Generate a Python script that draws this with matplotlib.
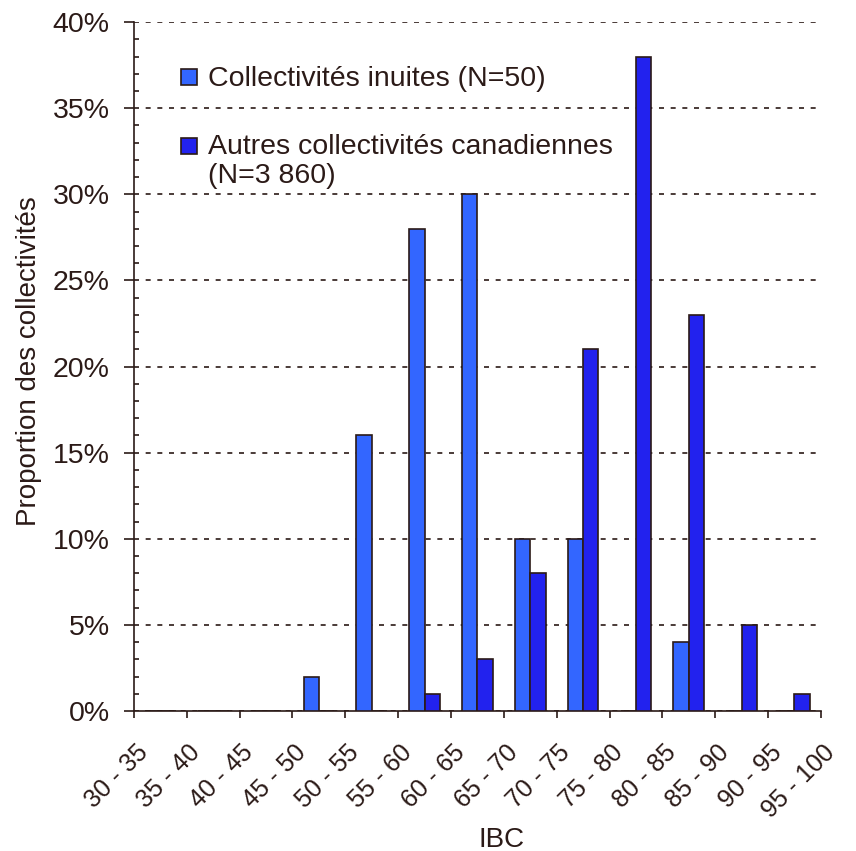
import matplotlib.pyplot as plt
from matplotlib.patches import Rectangle
from matplotlib.ticker import MultipleLocator, FuncFormatter
from matplotlib.transforms import ScaledTranslation
import numpy as np

TEXT_COLOR = '#2b1a17'
COLOR_INUIT = '#3366ff'
COLOR_OTHER = '#2222ee'
FONT_SIZE = 20.5
XTICK_SIZE = 18

plt.rcParams.update({'font.family': ['Liberation Sans', 'DejaVu Sans'], 'font.size': FONT_SIZE,
                     'text.color': TEXT_COLOR, 'axes.labelcolor': TEXT_COLOR,
                     'xtick.color': TEXT_COLOR, 'ytick.color': TEXT_COLOR})

tick_labels = ['30 - 35', '35 - 40', '40 - 45', '45 - 50', '50 - 55', '55 - 60', '60 - 65',
               '65 - 70', '70 - 75', '75 - 80', '80 - 85', '85 - 90', '90 - 95', '95 - 100']
inuit = [0, 0, 0, 2, 16, 28, 30, 10, 10, 0, 4, 0, 0]
other = [0, 0, 0, 0, 0, 1, 3, 8, 21, 38, 23, 5, 1]
label_inuit = 'Collectivités inuites (N=50)'
label_other = 'Autres collectivités canadiennes\n(N=3 860)'

fig = plt.figure(figsize=(8.56, 8.51), dpi=100)
ax = fig.add_axes([0.1565, 0.1645, 0.8025, 0.8095])

centers = np.arange(len(inuit)) + 0.5
width = 0.29
ax.bar(centers - width / 2, inuit, width, color=COLOR_INUIT, edgecolor=TEXT_COLOR, linewidth=1.2, zorder=3)
ax.bar(centers + width / 2, other, width, color=COLOR_OTHER, edgecolor=TEXT_COLOR, linewidth=1.2, zorder=3)

ax.yaxis.set_major_locator(MultipleLocator(5))
ax.yaxis.set_minor_locator(MultipleLocator(1))
ax.yaxis.set_major_formatter(FuncFormatter(lambda v, p: f'{v:.0f}%'))
ax.tick_params(axis='y', which='major', direction='out', length=7.5, width=1.2, pad=10)
ax.tick_params(axis='y', which='minor', direction='in', length=3.5, width=1.2)

ticks = np.arange(len(tick_labels))
ax.set_xticks(ticks)
ax.set_xticklabels([])
ax.tick_params(axis='x', which='major', direction='out', length=5, width=1.2)
ax.set_xlim(0, len(inuit))
ax.set_ylim(0, 40)

# slanted labels: excel ends each one a little right of and below its tick
offset = ScaledTranslation(0.10, -0.375, fig.dpi_scale_trans)
for t, lbl in zip(ticks, tick_labels):
    ax.text(t, 0, lbl, transform=ax.get_xaxis_transform() + offset, rotation=45, ha='right',
            va='center', rotation_mode='anchor', fontsize=XTICK_SIZE, clip_on=False)

ax.yaxis.grid(True, which='major', linestyle=(0, (3, 4)), color=TEXT_COLOR, linewidth=1.2, zorder=0)
for side in ('top', 'right'):
    ax.spines[side].set_visible(False)
for side in ('left', 'bottom'):
    ax.spines[side].set_color(TEXT_COLOR)
    ax.spines[side].set_linewidth(1.2)

ax.set_xlabel('IBC', fontsize=20)
ax.xaxis.set_label_coords(0.5357, -0.168)
ax.set_ylabel('Proportion des collectivités', fontsize=20)
ax.yaxis.set_label_coords(-0.134, 0.508)

# legend drawn by hand so the square lines up with the first text line
for y_box, y_txt, col, txt in ((0.9086, 0.9363, COLOR_INUIT, label_inuit),
                               (0.8084, 0.8372, COLOR_OTHER, label_other)):
    ax.add_patch(Rectangle((0.0684, y_box), 0.0233, 0.0232, transform=ax.transAxes, facecolor=col,
                           edgecolor=TEXT_COLOR, linewidth=1.2, zorder=5, clip_on=False))
    ax.text(0.1077, y_txt, txt, transform=ax.transAxes, va='top', ha='left',
            linespacing=1.12, zorder=5)

fig.savefig('out.png', dpi=100)
